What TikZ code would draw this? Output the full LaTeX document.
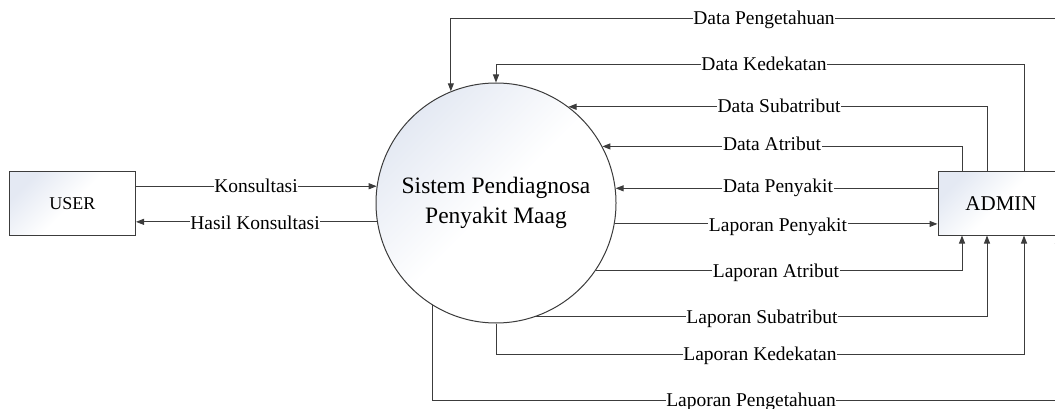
\documentclass[tikz,border=0pt]{standalone}
\usepackage{fontspec}
\setmainfont{Liberation Serif}
\newfontfamily\diagfont{Liberation Serif}
\usetikzlibrary{arrows.meta}

\definecolor{flowline}{RGB}{60,60,60}
\definecolor{shadetone}{RGB}{228,233,243}

\tikzset{
  tinted/.style={top color=shadetone, bottom color=white,
    middle color=white, shading angle=45},
  entity/.style={draw=flowline, line width=1pt, rectangle,
    minimum width=126pt, minimum height=63pt, inner sep=0pt, tinted},
  process/.style={draw=flowline, line width=1pt, circle,
    minimum size=240pt, inner sep=0pt, align=center, tinted,
    font=\diagfont\fontsize{23.5}{30}\selectfont},
  flow/.style={draw=flowline, line width=1pt},
  arr/.style={flow, -{Triangle[length=8pt,width=6pt]}},
  lbl/.style={fill=white, inner xsep=0.6pt, inner ysep=1pt, anchor=base,
    font=\diagfont\fontsize{19.5}{22}\selectfont}
}

\begin{document}
\begin{tikzpicture}[x=1pt,y=-1pt]
  \useasboundingbox (0,0) rectangle (1055,409);
  \clip (0,0) rectangle (1055,409);

  % entities and the central process
  \node[entity, font=\diagfont\fontsize{18}{20}\selectfont] (user) at (72.5,203.5) {USER};
  \node[entity, font=\diagfont\fontsize{21}{24}\selectfont] (admin) at (1001,203.5) {ADMIN};
  \node[process] (sys) at (496,203) {Sistem Pendiagnosa\\Penyakit Maag};

  % columns of the ADMIN connectors and rows of the long runs
  \coordinate (xA) at (962,0);
  \coordinate (xS) at (987,0);
  \coordinate (xK) at (1024,0);
  \coordinate (xP) at (1058,0);
  \coordinate (yP) at (0,19);
  \coordinate (yK) at (0,65);
  \coordinate (yLK) at (0,354);
  \coordinate (yLP) at (0,400);

  % USER <-> system
  \draw[arr] (user.east |- sys.172.3) -- (sys.172.3);
  \draw[arr] (sys.189.6) -- (user.east |- sys.189.6);

  % ADMIN -> system
  \draw[arr] (xP |- admin.north) |- (sys.112.5 |- yP) -- (sys.112.5);
  \draw[arr] (xK |- admin.north) |- (sys.90 |- yK) -- (sys.90);
  \draw[arr] (xS |- admin.north) |- (sys.53.1);
  \draw[arr] (xA |- admin.north) |- (sys.28.9);
  \draw[arr] (admin.west |- sys.7.7) -- (sys.7.7);

  % system -> ADMIN
  \draw[arr] (sys.-10.6) -- (admin.west |- sys.-10.6);
  \draw[arr] (sys.-34.5) -| (xA |- admin.south);
  \draw[arr] (sys.-71.8) -| (xS |- admin.south);
  \draw[arr] (sys.-90) |- (xK |- yLK) -- (xK |- admin.south);
  \draw[arr] (sys.-122.2) |- (xP |- yLP) -- (xP |- admin.south);

  % flow labels
  \node[lbl] (l1) at (256,193) {Konsultasi};
  \node[lbl] (l2) at (255,229) {Hasil Konsultasi};
  \node[lbl] (l3) at (764,25) {Data Pengetahuan};
  \node[lbl] (l4) at (764,71) {Data Kedekatan};
  \node[lbl] (l5) at (779,113) {Data Subatribut};
  \node[lbl] (l6) at (772,151) {Data Atribut};
  \node[lbl] (l7) at (778,193) {Data Penyakit};
  \node[lbl] (l8) at (778,231) {Laporan Penyakit};
  \node[lbl] (l9) at (776,277) {Laporan Atribut};
  \node[lbl] (l10) at (762,323) {Laporan Subatribut};
  \node[lbl] (l11) at (760,360) {Laporan Kedekatan};
  \node[lbl] (l12) at (751,406) {Laporan Pengetahuan};
\end{tikzpicture}
\end{document}
